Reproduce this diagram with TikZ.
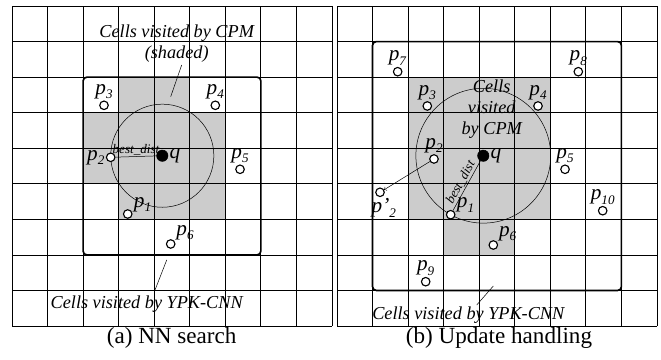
\documentclass[tikz,border=0pt]{standalone}
\usepackage{fontspec}
\setmainfont{Liberation Serif}
\usetikzlibrary{calc}

\newcommand{\pn}[1]{\textit{p}\raisebox{-.45ex}{\fontsize{10.5}{10.5}\selectfont\textit{#1}}}

\begin{document}
\begin{tikzpicture}[pt/.style={circle,draw,fill=white,line width=0.9pt,inner sep=0pt,minimum size=0.24cm,label distance=-3pt},
  qpt/.style={circle,draw,fill=black,inner sep=0pt,minimum size=0.32cm,label distance=-2pt},
  txt/.style={font=\fontsize{14.6}{17}\selectfont\itshape,inner sep=0pt},
  dist/.style={font=\fontsize{10.5}{12}\selectfont\itshape,inner sep=1pt},
  captxt/.style={font=\fontsize{18.5}{20}\selectfont,inner sep=0pt},
  every label/.style={font=\fontsize{17}{17}\selectfont,inner sep=1pt}]
  \useasboundingbox (-0.3376,-0.956) rectangle (18.256,9.170);

  \fill[black!20] (3,3) -- (6,3) -- (6,6) -- (5,6) -- (5,7) -- (3,7) -- (3,6) -- (2,6) -- (2,4) -- (3,4) -- cycle;
  \draw[line width=0.6pt] (0,0) grid (9,9);
  \coordinate (ca) at (4.228,4.790);
  \draw (ca) circle (1.45);
  \draw[line width=1.3pt,rounded corners=3pt] (2,2) rectangle (7,7);
  \node[qpt,label=right:\textit{q}] (qa) at (ca) {};
  \node[pt,label=left:\pn{2}] (a2) at (2.776,4.745) {};
  \node[pt,label=above:\pn{3}] (a3) at (2.588,6.208) {};
  \node[pt,label=above:\pn{4}] (a4) at (5.719,6.208) {};
  \node[pt,label=above:\pn{5}] (a5) at (6.414,4.408) {};
  \node[pt,label=10:\pn{1}] (a1) at (3.255,3.150) {};
  \node[pt,label=30:\pn{6}] (a6) at (4.464,2.307) {};
  \draw (a2) -- (qa) node[midway,above,dist] {best\_dist};
  \node[txt,align=center] (cpma) at (4.633,7.94) {Cells visited by CPM\\(shaded)};
  \coordinate (cpma1) at (4.773,7.342);
  \coordinate (cpma2) at (4.464,6.45);
  \draw (cpma1) -- (cpma2);
  \node[txt] (ypka) at (3.789,0.610) {Cells visited by YPK-CNN};
  \coordinate (ypka1) at (4.352,1.857);
  \coordinate (ypka2) at (4.023,1.013);
  \draw (ypka1) -- (ypka2);
  \node[captxt] (capa) at (4.492,-0.346) {(a) NN search};

  \begin{scope}[xshift=9.142cm]
    \fill[black!20] (3,2) -- (5,2) -- (5,3) -- (6,3) -- (6,7) -- (2,7) -- (2,3) -- (3,3) -- cycle;
    \draw[line width=0.6pt] (0,0) grid (9,9);
    \coordinate (cb) at (4.115,4.790);
    \draw (cb) circle (1.896);
    \draw[line width=1.3pt,rounded corners=3pt] (1,1) rectangle (8,8);
    \node[txt,align=center] (cpmb) at (4.352,6.096) {Cells\\visited\\by CPM};
    \node[qpt,label=right:\textit{q}] (qb) at (cb) {};
    \node[pt,label=above:\pn{7}] (b7) at (1.707,7.153) {};
    \node[pt,label=above:\pn{8}] (b8) at (6.788,7.153) {};
    \node[pt,label=above:\pn{3}] (b3) at (2.540,6.189) {};
    \node[pt,label=above:\pn{4}] (b4) at (5.654,6.189) {};
    \node[pt,label=above:\pn{2}] (b2) at (2.728,4.698) {};
    \node[pt,label=above:\pn{5}] (b5) at (6.414,4.408) {};
    \node[pt,label={[xshift=3pt]below:\textit{p'}\raisebox{-.45ex}{\fontsize{10.5}{10.5}\selectfont\textit{2}}}] (b2p) at (1.210,3.761) {};
    \node[pt,label=10:\pn{1}] (b1) at (3.198,3.131) {};
    \node[pt,label=above:\pn{10}] (b10) at (7.474,3.243) {};
    \node[pt,label=30:\pn{6}] (b6) at (4.397,2.278) {};
    \node[pt,label=above:\pn{9}] (b9) at (2.495,1.246) {};
    \draw[->] (b2) -- (b2p);
    \draw (b1) -- (qb) node[midway,sloped,above,dist] {best\_dist};
    \node[txt] (ypkb) at (3.693,0.309) {Cells visited by YPK-CNN};
    \coordinate (ypkb1) at (4.397,1.125);
    \coordinate (ypkb2) at (3.930,0.591);
    \draw (ypkb1) -- (ypkb2);
    \node[captxt] (capb) at (4.557,-0.346) {(b) Update handling};
  \end{scope}
\end{tikzpicture}
\end{document}
